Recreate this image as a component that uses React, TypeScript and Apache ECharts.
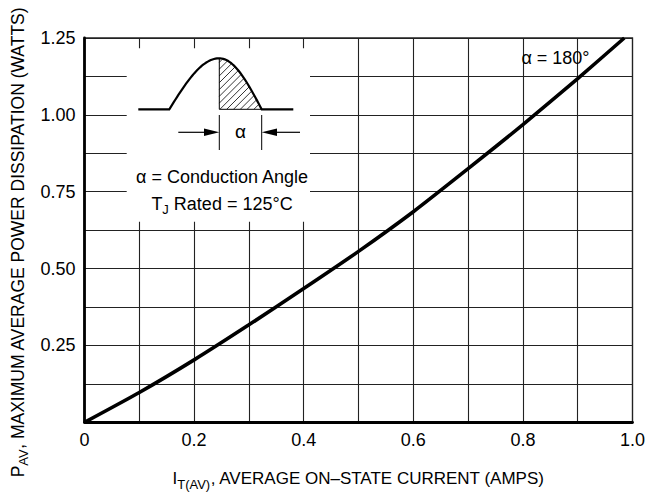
import React, { useEffect, useRef } from "react";
import * as echarts from "echarts";

// Curve: alpha = 180 deg
const currentAmps = [0, 0.1, 0.2, 0.3, 0.4, 0.5, 0.6, 0.7, 0.8, 0.9, 0.985];
const powerWatts = [0, 0.097, 0.203, 0.317, 0.435, 0.556, 0.685, 0.825, 0.968, 1.118, 1.25];

const xTickLabels = ["0", "0.2", "0.4", "0.6", "0.8", "1.0"];
const yTickLabels = ["0.25", "0.50", "0.75", "1.00", "1.25"];

const FONT = "'Liberation Sans', Arial, sans-serif";

function buildInset() {
  const els: any[] = [];
  const base = 109.3;
  const x0 = 169.3;
  const xp = 219.3;
  const x1 = 261.7;
  const amp = 51;
  const curveY = (x: number) => {
    if (x <= x0 || x >= x1) return base;
    if (x <= xp) return base - amp * Math.sin(((x - x0) / (xp - x0)) * (Math.PI / 2));
    return base - amp * Math.cos(((x - xp) / (x1 - xp)) * (Math.PI / 2));
  };
  els.push({ type: "rect", z: 10, shape: { x: 126.7, y: 48.3, width: 183.3, height: 173.4 }, style: { fill: "#fff" } });
  const pts: number[][] = [[138.3, base]];
  for (let i = 0; i <= 60; i++) {
    const x = x0 + ((x1 - x0) * i) / 60;
    pts.push([x, curveY(x)]);
  }
  pts.push([293.3, base]);
  els.push({ type: "polyline", z: 11, shape: { points: pts }, style: { stroke: "#000", lineWidth: 2.2, fill: "none" } });
  els.push({ type: "line", z: 11, shape: { x1: xp, y1: base - amp, x2: xp, y2: base }, style: { stroke: "#000", lineWidth: 1 } });
  els.push({ type: "line", z: 11, shape: { x1: xp, y1: base, x2: x1, y2: base }, style: { stroke: "#000", lineWidth: 1 } });
  for (let c = xp + base - amp + 4; c < x1 + base; c += 6.8) {
    let minX = Infinity;
    let maxX = -Infinity;
    for (let x = xp; x <= x1; x += 0.2) {
      const y = c - x;
      if (y <= base && y >= curveY(x)) {
        if (x < minX) minX = x;
        if (x > maxX) maxX = x;
      }
    }
    if (maxX - minX > 0.5) {
      els.push({ type: "line", z: 11, shape: { x1: minX, y1: c - minX, x2: maxX, y2: c - maxX }, style: { stroke: "#000", lineWidth: 0.8 } });
    }
  }
  const dy = 132.3;
  els.push({ type: "line", z: 11, shape: { x1: xp, y1: 115, x2: xp, y2: 150 }, style: { stroke: "#000", lineWidth: 1 } });
  els.push({ type: "line", z: 11, shape: { x1: x1, y1: 115, x2: x1, y2: 150 }, style: { stroke: "#000", lineWidth: 1 } });
  els.push({ type: "line", z: 11, shape: { x1: 178.3, y1: dy, x2: 206, y2: dy }, style: { stroke: "#000", lineWidth: 1.2 } });
  els.push({ type: "polygon", z: 11, shape: { points: [[xp, dy], [204, dy - 3.8], [204, dy + 3.8]] }, style: { fill: "#000" } });
  els.push({ type: "line", z: 11, shape: { x1: 275, y1: dy, x2: 300, y2: dy }, style: { stroke: "#000", lineWidth: 1.2 } });
  els.push({ type: "polygon", z: 11, shape: { points: [[x1, dy], [277, dy - 3.8], [277, dy + 3.8]] }, style: { fill: "#000" } });
  els.push({ type: "text", z: 11, x: 240.5, y: 131.5, style: { text: "α", fontSize: 19, fontFamily: FONT, fill: "#000", align: "center", verticalAlign: "middle" } });
  els.push({ type: "text", z: 11, x: 222, y: 176.5, style: { text: "α = Conduction Angle", fontSize: 18, fontFamily: FONT, fill: "#000", align: "center", verticalAlign: "middle" } });
  els.push({
    type: "text", z: 11, x: 222, y: 205,
    style: {
      text: "{m|T}{s|J}{m| Rated = 125°C}",
      fontFamily: FONT, fill: "#000", align: "center", verticalAlign: "middle",
      rich: {
        m: { fontSize: 18, fontFamily: FONT, fill: "#000", lineHeight: 20, verticalAlign: "top" },
        s: { fontSize: 13, fontFamily: FONT, fill: "#000", lineHeight: 21, verticalAlign: "bottom" },
      },
    },
  });
  els.push({ type: "text", z: 11, x: 555.5, y: 58, style: { text: "α = 180°", fontSize: 18, fontFamily: FONT, fill: "#000", align: "center", verticalAlign: "middle" } });
  return els;
}

export default function App() {
  const ref = useRef<HTMLDivElement>(null);
  useEffect(() => {
    if (!ref.current) return;
    const chart = echarts.init(ref.current, undefined, { renderer: "svg" });
    const data = currentAmps.map((x, i) => [x, powerWatts[i]]);
    chart.setOption({
      animation: false,
      backgroundColor: "#fff",
      grid: {
        left: 84.5, right: 28.5, top: 38, bottom: 75.7, containLabel: false, outerBoundsMode: "none",
        show: true, borderColor: "#222", borderWidth: 1.3, backgroundColor: "transparent",
      },
      xAxis: {
        type: "value", min: 0, max: 1, interval: 0.1,
        name: "{m|I}{s|T(AV)}{m|, AVERAGE ON–STATE CURRENT (AMPS)}",
        nameLocation: "middle", nameGap: 48,
        nameTextStyle: {
          rich: {
            m: { fontSize: 17, fontFamily: FONT, color: "#000", lineHeight: 20, verticalAlign: "top" },
            s: { fontSize: 13, fontFamily: FONT, color: "#000", lineHeight: 21, verticalAlign: "bottom" },
          },
        },
        axisLine: { show: true, lineStyle: { color: "#000", width: 2.8 } },
        axisTick: { show: false },
        splitLine: { show: true, lineStyle: { color: "#222", width: 1.1 } },
        axisLabel: {
          fontSize: 18, fontFamily: FONT, color: "#000", margin: 9,
          formatter: (v: number) => {
            const k = Math.round(v * 10);
            return k % 2 === 0 ? xTickLabels[k / 2] : "";
          },
        },
      },
      yAxis: {
        type: "value", min: 0, max: 1.25, interval: 0.125,
        name: "{m|P}{s|AV}{m|, MAXIMUM AVERAGE POWER DISSIPATION (WATTS)}",
        nameLocation: "middle", nameGap: 50, nameRotate: 90,
        nameTextStyle: {
          padding: [0, 24, 0, 0],
          rich: {
            m: { fontSize: 17.5, fontFamily: FONT, color: "#000", lineHeight: 20, verticalAlign: "top" },
            s: { fontSize: 13, fontFamily: FONT, color: "#000", lineHeight: 21, verticalAlign: "bottom" },
          },
        },
        axisLine: { show: true, lineStyle: { color: "#000", width: 2.8 } },
        axisTick: { show: false },
        splitLine: { show: true, lineStyle: { color: "#222", width: 1.1 } },
        axisLabel: {
          fontSize: 18, fontFamily: FONT, color: "#000", margin: 9,
          formatter: (v: number) => {
            const k = Math.round(v * 8);
            return k > 0 && k % 2 === 0 ? yTickLabels[k / 2 - 1] : "";
          },
        },
      },
      series: [
        {
          type: "line", data, symbol: "none", smooth: 0.2, z: 5,
          lineStyle: { color: "#000", width: 3.6 },
        },
      ],
      graphic: buildInset(),
    });
    return () => chart.dispose();
  }, []);
  return <div ref={ref} style={{ position: "fixed", left: 0, top: 0, width: 661, height: 498 }} />;
}
